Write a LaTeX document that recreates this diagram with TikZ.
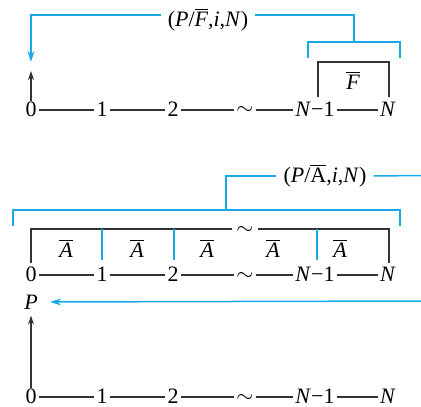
\documentclass[tikz,border=0pt]{standalone}
\usepackage{fontspec}
\setmainfont{Liberation Serif}
\usetikzlibrary{arrows.meta,positioning}
\definecolor{cashblue}{RGB}{25,170,230}

\begin{document}
\begin{tikzpicture}[x=0.5pt,y=-0.5pt,>={Stealth[length=5.5pt,width=3.5pt]},
  font=\fontsize{11}{13}\selectfont,
  tk/.style={inner sep=1pt,text height=0.68em,text depth=0pt},
  sim/.style={inner sep=1pt,text height=0.5em,text depth=0pt},
  bl/.style={draw=cashblue,line width=0.75pt},
  bk/.style={draw=black!80,line width=0.65pt}]
\useasboundingbox (0,0) rectangle (421,406);
% upper diagram: single amount F at N
\node[tk] (a0) at (31,110) {0};
\node[tk] (a1) at (102,110) {1};
\node[tk] (a2) at (173,110) {2};
\node[sim] (as) at (245,110) {$\sim$};
\node[tk] (am) at (315,110) {\textit{N}−1};
\node[tk] (an) at (388,110) {\textit{N}};
\draw[bk] (a0)--(a1)--(a2)--(as)--(am)--(an);
\coordinate (aup) at (31,71);
\draw[bk,->,>={Stealth[length=4.5pt,width=3pt]}] (a0.north) -- (aup);
\draw[bk] (318,97) |- (389,62) -- (389,97);
\node (fbar) at (353,80) {$\overline{\textit{F}}$};
\node (flab) at (208,19.5) {(\textit{P}/$\overline{\textit{F}}$,\textit{i},\textit{N})};
\coordinate (ftip) at (31,62);
\coordinate (fstem) at (354,42);
\draw[bl,->] ([yshift=2.2pt]flab.west) -| (ftip);
\draw[bl] ([yshift=2.2pt]flab.east) -| (fstem);
\draw[bl] (308,58) |- (400,42) -- (400,58);
% middle diagram: uniform series A
\node[tk] (b0) at (31,275) {0};
\node[tk] (b1) at (102,275) {1};
\node[tk] (b2) at (173,275) {2};
\node[sim] (bs) at (245,275) {$\sim$};
\node[tk] (bm) at (315,275) {\textit{N}−1};
\node[tk] (bn) at (388,275) {\textit{N}};
\draw[bk] (b0)--(b1)--(b2)--(bs)--(bm)--(bn);
\node[sim,inner sep=2pt] (btop) at (245,229) {$\sim$};
\draw[bk] (31,263) |- (btop.west);
\draw[bk] (btop.east) -| (389,263);
\draw[bl] (102,229) -- (102,260);
\draw[bl] (174,229) -- (174,260);
\draw[bl] (317,229) -- (317,260);
\node (abar1) at (66,248) {$\overline{\textit{A}}$};
\node (abar2) at (137,248) {$\overline{\textit{A}}$};
\node (abar3) at (207,248) {$\overline{\textit{A}}$};
\node (abar4) at (273,248) {$\overline{\textit{A}}$};
\node (abar5) at (340,248) {$\overline{\textit{A}}$};
\draw[bl] (13,226) |- (400,210) -- (400,226);
\node (alab) at (325,176) {(\textit{P}/$\overline{\textup{A}}$,\textit{i},\textit{N})};
\coordinate (astem) at (226,210);
\coordinate (aend) at (421,175.5);
\draw[bl] (astem) |- (alab.west);
\draw[bl] (alab.east) -- (aend);
% lower diagram: present worth P
\node[tk] (c0) at (31,397) {0};
\node[tk] (c1) at (102,397) {1};
\node[tk] (c2) at (173,397) {2};
\node[sim] (cs) at (245,397) {$\sim$};
\node[tk] (cm) at (315,397) {\textit{N}−1};
\node[tk] (cn) at (388,397) {\textit{N}};
\draw[bk] (c0)--(c1)--(c2)--(cs)--(cm)--(cn);
\node[inner sep=1pt] (pw) at (31,302) {\textit{P}};
\coordinate (pend) at (421,301);
\draw[bl,->,shorten >=5pt] (pend) -- (pw.east);
\draw[bk,->,>={Stealth[length=4.5pt,width=3pt]},shorten >=2pt] (c0.north) -- (pw.south);
\end{tikzpicture}
\end{document}
